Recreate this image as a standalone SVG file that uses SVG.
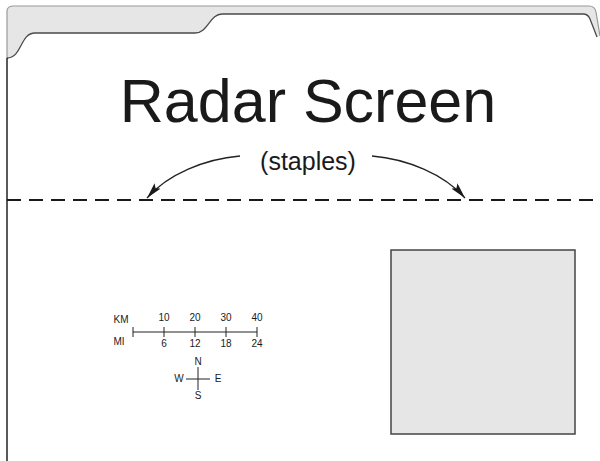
<svg xmlns="http://www.w3.org/2000/svg" width="600" height="461" viewBox="0 0 600 461">
<style>
text{font-family:"Liberation Sans",Arial,sans-serif;fill:#1a1a1a}
.sm{font-size:10px;text-anchor:middle}
.ln{stroke:#222;stroke-width:1.3;fill:none}
</style>
<defs>
<marker id="ah" viewBox="0 0 16 8" refX="16" refY="4" markerWidth="16" markerHeight="8" markerUnits="userSpaceOnUse" orient="auto">
<path d="M0,0 L16,4 L0,8 L3,4 Z" fill="#1a1a1a"/>
</marker>
</defs>
<rect width="600" height="461" fill="#fff"/>
<g id="tab">
<path d="M7,58 L7,11 Q7,6 14,6 L589,6 Q595,6 596,12 L600,36 L597,37 L590,19 Q588,14 583,14 L222,14 C210,14 208,33 195,33 L35,33 C20,33 22,58 7,58 Z" fill="#e6e6e6" stroke="none"/>
<path d="M7,58 L7,11 Q7,6 14,6 L589,6 Q595,6 596,12 L600,36" fill="none" stroke="#9a9a9a" stroke-width="1.2"/>
<path d="M597,37 L590,19 Q588,14 583,14 L222,14 C210,14 208,33 195,33 L35,33 C20,33 22,58 7,58" fill="none" stroke="#4a4a4a" stroke-width="1.3"/>
<line x1="7" y1="58" x2="7" y2="461" stroke="#222" stroke-width="1.5"/>
</g>
<g id="title">
<text x="308" y="122" font-size="61" text-anchor="middle">Radar Screen</text>
</g>
<g id="staples">
<text x="308" y="170" font-size="25" text-anchor="middle">(staples)</text>
</g>
<line id="fold" x1="7" y1="200" x2="600" y2="200" stroke="#1a1a1a" stroke-width="2" stroke-dasharray="14 8"/>
<g id="connectors">
<path class="ln" d="M240,156 C205,159 168,174 147,198" marker-end="url(#ah)"/>
<path class="ln" d="M372,156 C407,159 444,174 465,198" marker-end="url(#ah)"/>
</g>
<g id="scale">
<text x="121" y="323" class="sm">KM</text>
<text x="119" y="345" class="sm">MI</text>
<line x1="133" y1="332" x2="257" y2="332" stroke="#222" stroke-width="1"/>
<g stroke="#222" stroke-width="1">
<line x1="133" y1="327" x2="133" y2="337"/>
<line x1="164" y1="327" x2="164" y2="337"/>
<line x1="195" y1="327" x2="195" y2="337"/>
<line x1="226" y1="327" x2="226" y2="337"/>
<line x1="257" y1="327" x2="257" y2="337"/>
</g>
<text x="164" y="321" class="sm">10</text>
<text x="195" y="321" class="sm">20</text>
<text x="226" y="321" class="sm">30</text>
<text x="257" y="321" class="sm">40</text>
<text x="164" y="347" class="sm">6</text>
<text x="195" y="347" class="sm">12</text>
<text x="226" y="347" class="sm">18</text>
<text x="257" y="347" class="sm">24</text>
</g>
<g id="compass">
<line x1="198" y1="367" x2="198" y2="390" stroke="#222" stroke-width="1"/>
<line x1="186" y1="379" x2="210" y2="379" stroke="#222" stroke-width="1"/>
<text x="198" y="365" class="sm">N</text>
<text x="179" y="382" class="sm">W</text>
<text x="218" y="382" class="sm">E</text>
<text x="198" y="399" class="sm">S</text>
</g>
<g id="screen">
<rect x="391" y="250" width="184" height="184" fill="#e6e6e6" stroke="#444" stroke-width="1.5"/>
</g>
</svg>
